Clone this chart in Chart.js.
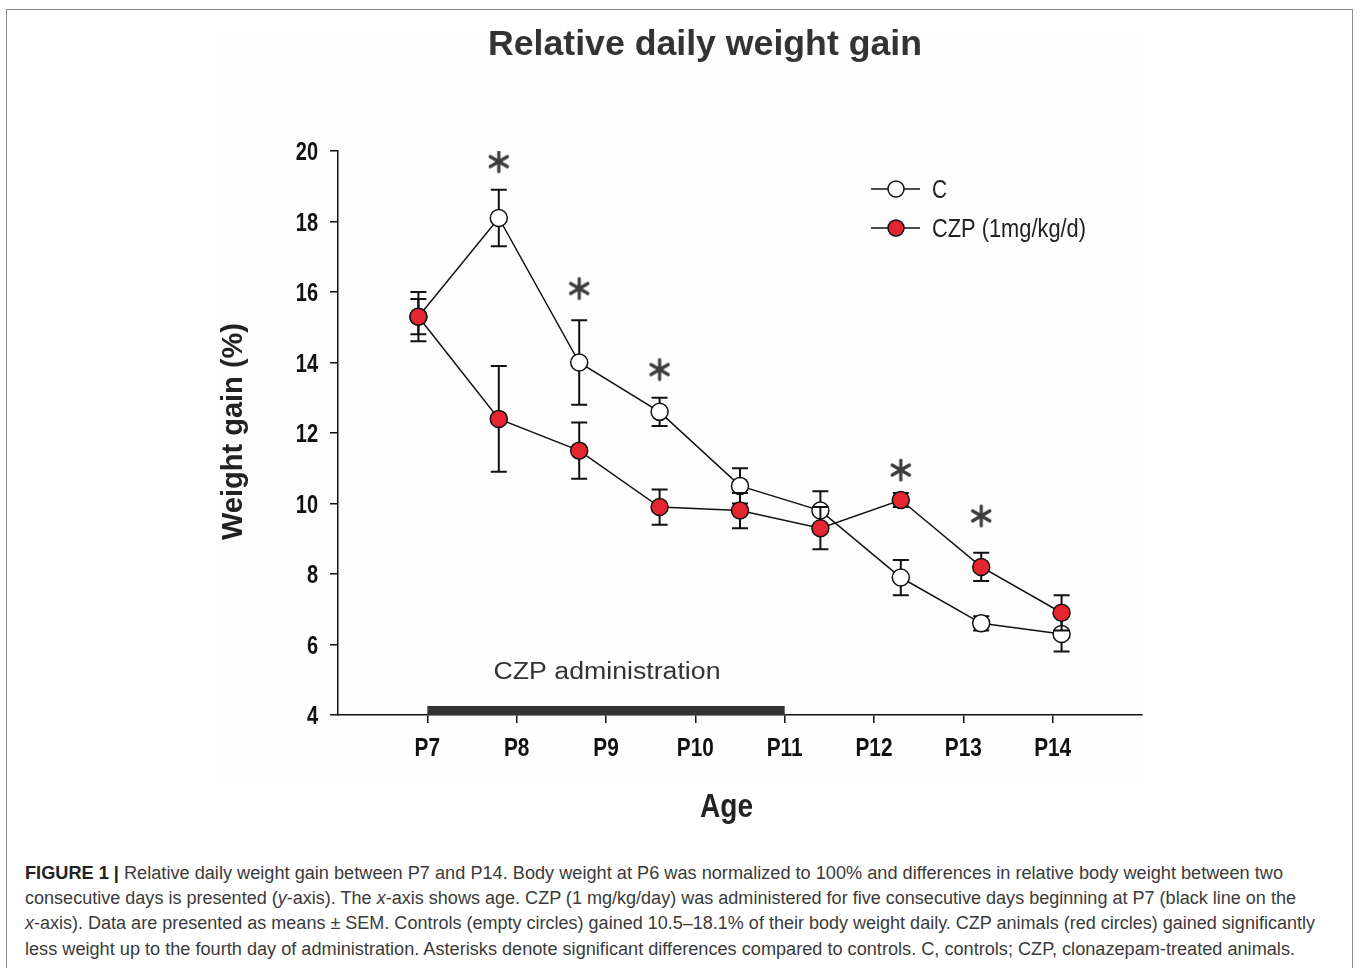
<!DOCTYPE html>
<html>
<head>
<meta charset="utf-8">
<script src="https://cdn.jsdelivr.net/npm/chart.js@4.4.1/dist/chart.umd.min.js"></script>
<style>
  html, body { margin: 0; padding: 0; background: #fff; }
  #wrap { position: relative; width: 1357px; height: 968px; overflow: hidden; }
  #frame { position: absolute; left: 6px; top: 9px; width: 1345px; height: 990px; border: 1px solid #8c8c8c; }
  #chart { position: absolute; left: 0; top: 0; }
  .cap {
    position: absolute; left: 25px; display: inline-block; white-space: nowrap;
    font-family: "Liberation Sans", Arial, sans-serif; font-size: 18px; line-height: 24px;
    color: #3a3a3a; transform-origin: 0 50%;
  }
  .cap b { color: #222; }
</style>
</head>
<body>
<div id="wrap">
  <div id="frame"></div>
  <canvas id="chart" width="1357" height="840"></canvas>
  <div class="cap" data-w="1258" style="top:861px"><b>FIGURE 1 |</b> Relative daily weight gain between P7 and P14. Body weight at P6 was normalized to 100% and differences in relative body weight between two</div>
  <div class="cap" data-w="1271" style="top:886px">consecutive days is presented (<i>y</i>-axis). The <i>x</i>-axis shows age. CZP (1 mg/kg/day) was administered for five consecutive days beginning at P7 (black line on the</div>
  <div class="cap" data-w="1290" style="top:911px"><i>x</i>-axis). Data are presented as means ± SEM. Controls (empty circles) gained 10.5–18.1% of their body weight daily. CZP animals (red circles) gained significantly</div>
  <div class="cap" data-w="1270" style="top:937px">less weight up to the fourth day of administration. Asterisks denote significant differences compared to controls. C, controls; CZP, clonazepam-treated animals.</div>
</div>
<script>
// ── Data ──
const tickPositions = [7, 8, 9, 10, 11, 12, 13, 14];
const tickLabels    = ['P7', 'P8', 'P9', 'P10', 'P11', 'P12', 'P13', 'P14'];
const yTicks  = [4, 6, 8, 10, 12, 14, 16, 18, 20];
const dayX   = [6.9, 7.8, 8.7, 9.6, 10.5, 11.4, 12.3, 13.2, 14.1];
const cMean  = [15.3, 18.1, 14.0, 12.6, 10.5, 9.8, 7.9, 6.6, 6.3];
const cSem   = [0.7, 0.8, 1.2, 0.4, 0.5, 0.55, 0.5, 0.2, 0.5];
const czpMean = [15.3, 12.4, 11.5, 9.9, 9.8, 9.3, 10.1, 8.2, 6.9];
const czpSem  = [0.5, 1.5, 0.8, 0.5, 0.5, 0.6, 0.2, 0.4, 0.5];
const sigX = [7.8, 8.7, 9.6, 12.3, 13.2];
const sigY = [19.7, 16.1, 13.8, 10.95, 9.65];
const adminStart = 7;
const adminEnd = 11;

const RED = '#e3262f';
const INK = '#111';
const SANS = '"Liberation Sans", Arial, sans-serif';

const toPoints = (xs, ys) => xs.map((x, i) => ({ x, y: ys[i] }));

// ── Asterisk marker ──
function makeAsterisk() {
  const c = document.createElement('canvas');
  c.width = 26; c.height = 26;
  const g = c.getContext('2d');
  g.strokeStyle = '#3c3c3c';
  g.lineWidth = 3.2;
  g.lineCap = 'round';
  const r = 10;
  [90, 30, 150].forEach(a => {
    const t = a * Math.PI / 180;
    g.beginPath();
    g.moveTo(13 - r * Math.cos(t), 13 - r * Math.sin(t));
    g.lineTo(13 + r * Math.cos(t), 13 + r * Math.sin(t));
    g.stroke();
  });
  return c;
}

// ── Helpers ──
function fitText(ctx, text, x, y, width, align) {
  ctx.save();
  const w0 = ctx.measureText(text).width;
  ctx.translate(x, y);
  ctx.scale(width / w0, 1);
  ctx.textAlign = align || 'center';
  ctx.textBaseline = 'alphabetic';
  ctx.fillText(text, 0, 0);
  ctx.restore();
}

function narrowText(ctx, text, x, y, align, squeeze) {
  ctx.save();
  ctx.translate(x, y);
  ctx.scale(squeeze || 0.82, 1);
  ctx.textAlign = align || 'center';
  ctx.textBaseline = 'alphabetic';
  ctx.fillText(text, 0, 0);
  ctx.restore();
}

// ── Plugins ──
const panelBg = {
  id: 'panelBg',
  beforeDraw(chart) {
    const ctx = chart.ctx;
    ctx.save();
    ctx.fillStyle = '#fdfdfd';
    ctx.fillRect(215, 36, 928, 744);
    ctx.restore();
  }
};

const adminBar = {
  id: 'adminBar',
  beforeDatasetsDraw(chart) {
    const { ctx, scales: { x, y } } = chart;
    const x0 = x.getPixelForValue(adminStart);
    const x1 = x.getPixelForValue(adminEnd);
    const yb = y.getPixelForValue(4);
    ctx.save();
    ctx.fillStyle = '#333';
    ctx.fillRect(x0, yb - 9, x1 - x0, 9);
    ctx.font = '23px ' + SANS;
    fitText(ctx, 'CZP administration', (x0 + x1) / 2 + 1, 679, 227);
    ctx.restore();
  }
};

const errorBars = {
  id: 'errorBars',
  beforeDatasetDraw(chart, args) {
    const ds = chart.data.datasets[args.index];
    if (!ds.sem) return;
    const y = chart.scales.y, ctx = chart.ctx;
    ctx.save();
    ctx.strokeStyle = INK;
    ctx.lineWidth = 2;
    args.meta.data.forEach((pt, i) => {
      const v = ds.data[i].y;
      const top = y.getPixelForValue(v + ds.sem[i]);
      const bot = y.getPixelForValue(v - ds.sem[i]);
      ctx.beginPath();
      ctx.moveTo(pt.x, top); ctx.lineTo(pt.x, bot);
      ctx.moveTo(pt.x - 8, top); ctx.lineTo(pt.x + 8, top);
      ctx.moveTo(pt.x - 8, bot); ctx.lineTo(pt.x + 8, bot);
      ctx.stroke();
    });
    ctx.restore();
  }
};

const texts = {
  id: 'texts',
  afterDraw(chart) {
    const { ctx, scales: { x, y } } = chart;
    ctx.save();
    // Tick labels (condensed bold)
    ctx.fillStyle = INK;
    ctx.font = 'bold 26px ' + SANS;
    tickPositions.forEach((v, i) => narrowText(ctx, tickLabels[i], x.getPixelForValue(v), 756, 'center', 0.8));
    ctx.font = 'bold 25px ' + SANS;
    yTicks.forEach(v => narrowText(ctx, String(v), 318, y.getPixelForValue(v) + 9, 'right', 0.8));
    // Title
    ctx.fillStyle = '#333';
    ctx.font = 'bold 35px ' + SANS;
    fitText(ctx, 'Relative daily weight gain', 705, 55, 434);
    // Axis titles
    ctx.fillStyle = '#222';
    ctx.font = 'bold 33px ' + SANS;
    fitText(ctx, 'Age', 726.5, 817, 53);
    ctx.save();
    ctx.translate(242, 431.5);
    ctx.rotate(-Math.PI / 2);
    ctx.font = 'bold 29px ' + SANS;
    fitText(ctx, 'Weight gain (%)', 0, 0, 217);
    ctx.restore();
    // Legend
    const rows = [
      { y: 189, fill: '#fff', label: 'C', w: 15 },
      { y: 228, fill: RED, label: 'CZP (1mg/kg/d)', w: 154 },
    ];
    rows.forEach(r => {
      ctx.strokeStyle = INK;
      ctx.lineWidth = 1.5;
      ctx.beginPath();
      ctx.moveTo(871, r.y); ctx.lineTo(920, r.y);
      ctx.stroke();
      ctx.beginPath();
      ctx.arc(896, r.y, 8, 0, Math.PI * 2);
      ctx.fillStyle = r.fill;
      ctx.fill();
      ctx.stroke();
      ctx.fillStyle = '#222';
      ctx.font = '26px ' + SANS;
      fitText(ctx, r.label, 932, r.y + 9, r.w, 'left');
    });
    ctx.restore();
  }
};

// ── Chart ──
const ctx = document.getElementById('chart').getContext('2d');
new Chart(ctx, {
  type: 'line',
  data: {
    datasets: [
      {
        label: 'C',
        data: toPoints(dayX, cMean),
        sem: cSem,
        borderColor: INK,
        borderWidth: 1.5,
        backgroundColor: '#fff',
        pointBackgroundColor: '#fff',
        pointBorderColor: INK,
        pointBorderWidth: 1.5,
        pointRadius: 8.5,
        pointHoverRadius: 8.5,
        tension: 0,
        order: 3,
      },
      {
        label: 'CZP (1mg/kg/d)',
        data: toPoints(dayX, czpMean),
        sem: czpSem,
        borderColor: INK,
        borderWidth: 1.5,
        backgroundColor: RED,
        pointBackgroundColor: RED,
        pointBorderColor: INK,
        pointBorderWidth: 1.5,
        pointRadius: 8.5,
        pointHoverRadius: 8.5,
        tension: 0,
        order: 2,
      },
      {
        label: 'significant',
        data: toPoints(sigX, sigY),
        showLine: false,
        pointStyle: makeAsterisk(),
        pointRadius: 10,
        order: 1,
      },
    ],
  },
  options: {
    responsive: false,
    animation: false,
    events: [],
    layout: { padding: { top: 151, right: 215, bottom: 0, left: 0 } },
    plugins: {
      legend: { display: false },
      tooltip: { enabled: false },
      title: { display: false },
    },
    scales: {
      x: {
        type: 'linear',
        min: 6,
        max: 15,
        afterBuildTicks: axis => { axis.ticks = tickPositions.map(v => ({ value: v })); },
        afterFit: axis => { axis.height = 125; },
        ticks: { display: false },
        grid: { drawOnChartArea: false, drawTicks: true, tickLength: 8, color: INK, lineWidth: 1.5 },
        border: { display: true, color: INK, width: 1.5 },
      },
      y: {
        min: 4,
        max: 20,
        afterBuildTicks: axis => { axis.ticks = yTicks.map(v => ({ value: v })); },
        afterFit: axis => { axis.width = 338; },
        ticks: { display: false },
        grid: { drawOnChartArea: false, drawTicks: true, tickLength: 8, color: INK, lineWidth: 1.5 },
        border: { display: true, color: INK, width: 1.5 },
      },
    },
  },
  plugins: [panelBg, adminBar, errorBars, texts],
});

// ── Caption fitting ──
document.querySelectorAll('.cap').forEach(el => {
  const target = parseFloat(el.dataset.w);
  const w = el.getBoundingClientRect().width;
  el.style.transform = `scaleX(${target / w})`;
});
</script>
</body>
</html>
